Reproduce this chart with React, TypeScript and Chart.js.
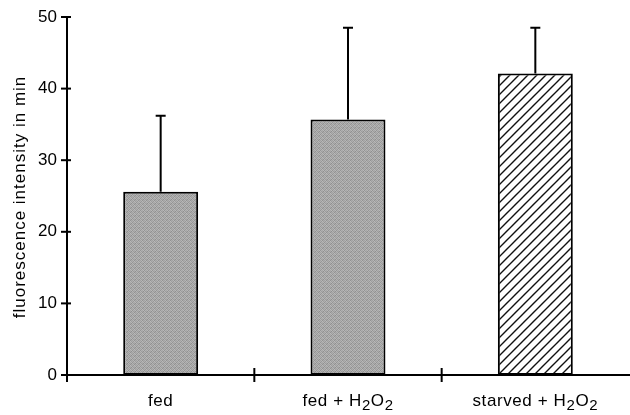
import React, { useEffect, useRef } from "react";
import { Chart, registerables } from "chart.js";
Chart.register(...registerables);

const categories = ["fed", "fed + H₂O₂", "starved + H₂O₂"];
const means = [25.6, 35.7, 42.1];
const errors = [10.6, 12.8, 6.4];
const yTicks = [0, 10, 20, 30, 40, 50];
const yTitle = "fluorescence intensity in min";
const fillKinds = ["gray", "gray", "hatch"];

const FONT = "'Liberation Sans', Arial, Helvetica, sans-serif";
const FONT_SIZE = 17;

function makeGrayPattern(ctx: CanvasRenderingContext2D): CanvasPattern | string {
  const c = document.createElement("canvas");
  c.width = 4;
  c.height = 4;
  const g = c.getContext("2d")!;
  const vals = [
    0xa2, 0xb6, 0x92, 0xac,
    0xb0, 0x98, 0xba, 0x9e,
    0x94, 0xb2, 0xa6, 0xb8,
    0xb6, 0x9c, 0xaa, 0x90,
  ];
  for (let i = 0; i < 16; i++) {
    const v = vals[i];
    g.fillStyle = `rgb(${v},${v},${v})`;
    g.fillRect(i % 4, Math.floor(i / 4), 1, 1);
  }
  return ctx.createPattern(c, "repeat") || "#a6a6a6";
}

function makeHatchPattern(ctx: CanvasRenderingContext2D): CanvasPattern | string {
  const s = 9;
  const c = document.createElement("canvas");
  c.width = s;
  c.height = s;
  const g = c.getContext("2d")!;
  g.fillStyle = "#ffffff";
  g.fillRect(0, 0, s, s);
  g.strokeStyle = "#111111";
  g.lineWidth = 1.4;
  g.beginPath();
  g.moveTo(-1, s + 1);
  g.lineTo(s + 1, -1);
  g.moveTo(-1, 1);
  g.lineTo(1, -1);
  g.moveTo(s - 1, s + 1);
  g.lineTo(s + 1, s - 1);
  g.stroke();
  return ctx.createPattern(c, "repeat") || "#ffffff";
}

function drawLabel(ctx: CanvasRenderingContext2D, text: string, cx: number, baseline: number) {
  const segs: { t: string; sub: boolean }[] = [];
  for (const ch of text) {
    const sub = ch === "₂";
    const t = sub ? "2" : ch;
    const last = segs[segs.length - 1];
    if (last && last.sub === sub) last.t += t;
    else segs.push({ t, sub });
  }
  const normal = `${FONT_SIZE}px ${FONT}`;
  const small = `${Math.round(FONT_SIZE * 0.88)}px ${FONT}`;
  (ctx as any).letterSpacing = "0.6px";
  let total = 0;
  const widths: number[] = [];
  for (const s of segs) {
    ctx.font = s.sub ? small : normal;
    const w = ctx.measureText(s.t).width;
    widths.push(w);
    total += w;
  }
  let x = cx - total / 2;
  ctx.textAlign = "left";
  ctx.textBaseline = "alphabetic";
  segs.forEach((s, i) => {
    ctx.font = s.sub ? small : normal;
    ctx.fillText(s.t, x, baseline + (s.sub ? 4 : 0));
    x += widths[i];
  });
  (ctx as any).letterSpacing = "0px";
}

const customPlugin = {
  id: "customDecor",
  afterDatasetsDraw(chart: any) {
    const ctx: CanvasRenderingContext2D = chart.ctx;
    const yScale = chart.scales.y;
    const xScale = chart.scales.x;
    const meta = chart.getDatasetMeta(0);
    ctx.save();
    ctx.strokeStyle = "#000";
    ctx.lineWidth = 2;
    meta.data.forEach((el: any, i: number) => {
      const top = yScale.getPixelForValue(means[i]);
      const errY = yScale.getPixelForValue(means[i] + errors[i]);
      ctx.beginPath();
      ctx.moveTo(el.x, top);
      ctx.lineTo(el.x, errY);
      ctx.moveTo(el.x - 5, errY);
      ctx.lineTo(el.x + 5, errY);
      ctx.stroke();
    });

    const left = chart.chartArea.left;
    yTicks.forEach((v) => {
      const y = yScale.getPixelForValue(v);
      ctx.beginPath();
      ctx.moveTo(left - 6, y);
      ctx.lineTo(left + 4, y);
      ctx.stroke();
    });

    const bottom = chart.chartArea.bottom;
    const w = (xScale.right - xScale.left) / categories.length;
    for (let k = 0; k < categories.length; k++) {
      const x = xScale.left + k * w;
      ctx.beginPath();
      ctx.moveTo(x, bottom - 7);
      ctx.lineTo(x, bottom + 7);
      ctx.stroke();
    }

    ctx.fillStyle = "#000";
    categories.forEach((c, i) => {
      const cx = xScale.getPixelForValue(i);
      drawLabel(ctx, c, cx, 406);
    });

    ctx.save();
    ctx.translate(20, 197);
    ctx.rotate(-Math.PI / 2);
    ctx.font = `${FONT_SIZE}px ${FONT}`;
    (ctx as any).letterSpacing = "1px";
    ctx.textAlign = "center";
    ctx.textBaseline = "middle";
    ctx.fillText(yTitle, 0, 0);
    ctx.restore();

    ctx.restore();
  },
};

export default function App() {
  const ref = useRef<HTMLCanvasElement | null>(null);
  useEffect(() => {
    document.body.style.margin = "0";
    const canvas = ref.current!;
    const ctx = canvas.getContext("2d")!;
    const fills = fillKinds.map((k) => (k === "gray" ? makeGrayPattern(ctx) : makeHatchPattern(ctx)));
    const chart = new Chart(canvas, {
      type: "bar",
      data: {
        labels: categories,
        datasets: [
          {
            data: means,
            backgroundColor: fills as any,
            borderColor: "#000",
            borderWidth: 2,
            borderSkipped: false,
            barPercentage: 0.4,
            categoryPercentage: 1,
          },
        ],
      },
      options: {
        responsive: false,
        animation: false,
        devicePixelRatio: 1,
        layout: { padding: { top: 17, right: 1, left: 0, bottom: 0 } },
        plugins: { legend: { display: false }, tooltip: { enabled: false } },
        scales: {
          x: {
            grid: { display: false, drawTicks: false },
            border: { display: true, color: "#000", width: 2 },
            ticks: { display: false },
            afterFit: (s: any) => {
              s.height = 40;
              s.paddingLeft = 0;
              s.paddingRight = 0;
            },
          },
          y: {
            min: 0,
            max: 50,
            grid: { display: false, drawTicks: false },
            border: { display: true, color: "#000", width: 2 },
            ticks: {
              stepSize: 10,
              padding: 10,
              color: "#000",
              font: { family: FONT, size: FONT_SIZE },
            },
            afterFit: (s: any) => {
              s.width = 67;
              s.paddingTop = 0;
              s.paddingBottom = 0;
            },
          },
        },
      },
      plugins: [customPlugin],
    });
    return () => chart.destroy();
  }, []);
  return (
    <div style={{ width: 630, height: 415, background: "#fff" }}>
      <canvas ref={ref} width={630} height={415} style={{ display: "block", width: 630, height: 415 }} />
    </div>
  );
}
